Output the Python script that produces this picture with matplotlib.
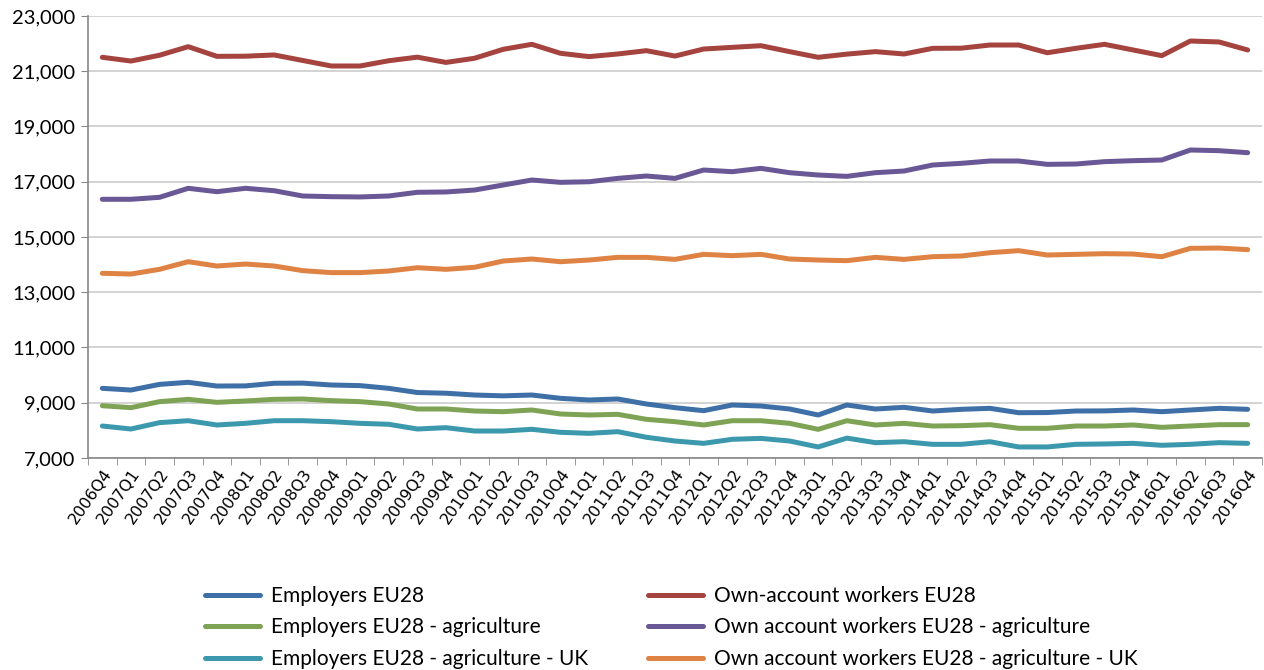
import matplotlib
matplotlib.use("Agg")
import matplotlib.pyplot as plt
import numpy as np

quarters = ["2006Q4",
            "2007Q1", "2007Q2", "2007Q3", "2007Q4",
            "2008Q1", "2008Q2", "2008Q3", "2008Q4",
            "2009Q1", "2009Q2", "2009Q3", "2009Q4",
            "2010Q1", "2010Q2", "2010Q3", "2010Q4",
            "2011Q1", "2011Q2", "2011Q3", "2011Q4",
            "2012Q1", "2012Q2", "2012Q3", "2012Q4",
            "2013Q1", "2013Q2", "2013Q3", "2013Q4",
            "2014Q1", "2014Q2", "2014Q3", "2014Q4",
            "2015Q1", "2015Q2", "2015Q3", "2015Q4",
            "2016Q1", "2016Q2", "2016Q3", "2016Q4"]

employers_eu28 = [9522, 9460, 9665, 9740, 9605, 9610, 9705, 9710, 9642, 9620, 9522, 9370, 9345,
                  9280, 9250, 9280, 9160, 9100, 9136, 8955, 8822, 8713, 8919, 8882, 8774,
                  8557, 8919, 8774, 8834, 8701, 8762, 8798, 8640, 8645, 8701, 8705, 8738,
                  8677, 8738, 8798, 8762]
employers_agri = [8893, 8822, 9040, 9124, 9015, 9064, 9124, 9136, 9076, 9040, 8955, 8774, 8774,
                  8701, 8677, 8738, 8593, 8557, 8580, 8400, 8315, 8195, 8350, 8350, 8255,
                  8038, 8350, 8195, 8255, 8158, 8170, 8207, 8075, 8075, 8158, 8158, 8195,
                  8110, 8158, 8207, 8207]
employers_agri_uk = [8158, 8050, 8280, 8350, 8195, 8255, 8350, 8350, 8315, 8255, 8220, 8050, 8098,
                     7977, 7977, 8038, 7930, 7893, 7953, 7750, 7615, 7530, 7677, 7710, 7615,
                     7400, 7720, 7555, 7590, 7495, 7495, 7590, 7400, 7400, 7495, 7508, 7530,
                     7460, 7495, 7555, 7530]
own_eu28 = [21505, 21370, 21580, 21890, 21540, 21545, 21590, 21390, 21190, 21190, 21380, 21510, 21320,
            21470, 21794, 21975, 21650, 21530, 21625, 21745, 21550, 21805, 21865, 21925, 21710,
            21505, 21620, 21710, 21625, 21830, 21835, 21950, 21950, 21670, 21830, 21975, 21770,
            21565, 22095, 22060, 21770]
own_agri = [16365, 16365, 16437, 16763, 16640, 16763, 16676, 16484, 16460, 16450, 16484, 16618, 16630,
            16700, 16882, 17063, 16979, 17000, 17122, 17208, 17122, 17425, 17364, 17485, 17328,
            17244, 17195, 17328, 17389, 17606, 17667, 17751, 17751, 17630, 17642, 17727, 17763,
            17787, 18149, 18125, 18052]
own_agri_uk = [13686, 13660, 13830, 14106, 13950, 14022, 13950, 13782, 13710, 13710, 13769, 13889, 13830,
               13903, 14131, 14203, 14106, 14167, 14263, 14263, 14190, 14372, 14324, 14372, 14203,
               14167, 14143, 14263, 14190, 14287, 14312, 14432, 14505, 14348, 14372, 14396, 14384,
               14287, 14590, 14600, 14542]

yticks = [7000, 9000, 11000, 13000, 15000, 17000, 19000, 21000, 23000]

series_left = [("Employers EU28", employers_eu28, "#3E6FA6"),
               ("Employers EU28 - agriculture", employers_agri, "#7FA355"),
               ("Employers EU28 - agriculture - UK", employers_agri_uk, "#3C98AD")]
series_right = [("Own-account workers EU28", own_eu28, "#A5433F"),
                ("Own account workers EU28 - agriculture", own_agri, "#6A5796"),
                ("Own account workers EU28 - agriculture - UK", own_agri_uk, "#DE8344")]

fig = plt.figure(figsize=(12.64, 6.70), dpi=100)
ax = fig.add_axes([88/1264, 1-458/670, (1262-88)/1264, (458-16)/670])

x = np.arange(len(quarters))
handles_l, handles_r = [], []
for name, vals, col in series_left:
    h, = ax.plot(x, vals, color=col, lw=3.6, solid_capstyle="round", solid_joinstyle="round", label=name)
    handles_l.append(h)
for name, vals, col in series_right:
    h, = ax.plot(x, vals, color=col, lw=3.6, solid_capstyle="round", solid_joinstyle="round", label=name)
    handles_r.append(h)

ax.set_xlim(-0.5, len(quarters) - 0.5)
ax.set_ylim(7000, 23000)
ax.set_yticks(yticks)
ax.set_yticklabels([f"{v:,}" for v in yticks], fontfamily="Lato", fontsize=14.5)
ax.yaxis.grid(True, color="#CCCCCC", lw=1.2)
ax.set_axisbelow(True)
ax.tick_params(axis="y", length=5, color="#888888", pad=4)

ax.set_xticks(x)
ax.set_xticklabels(quarters, rotation=55, ha="right", rotation_mode="anchor",
                   fontfamily="DejaVu Sans", fontsize=11.5)
ax.tick_params(axis="x", which="major", length=0, pad=6)
ax.set_xticks(np.arange(-0.5, len(quarters), 1), minor=True)
ax.tick_params(axis="x", which="minor", length=5, color="#888888")

for s in ["top", "right"]:
    ax.spines[s].set_visible(False)
for s in ["left", "bottom"]:
    ax.spines[s].set_color("#888888")
    ax.spines[s].set_linewidth(1.2)

leg_kw = dict(frameon=False, prop={"family": "Lato", "size": 15}, handlelength=2.65,
              handletextpad=0.5, labelspacing=0.55, borderpad=0, borderaxespad=0)
leg1 = fig.legend(handles=handles_l, loc="upper left", bbox_to_anchor=(205/1264, 1-586/670), **leg_kw)
leg2 = fig.legend(handles=handles_r, loc="upper left", bbox_to_anchor=(648/1264, 1-586/670), **leg_kw)

fig.savefig("out.png", dpi=100)
